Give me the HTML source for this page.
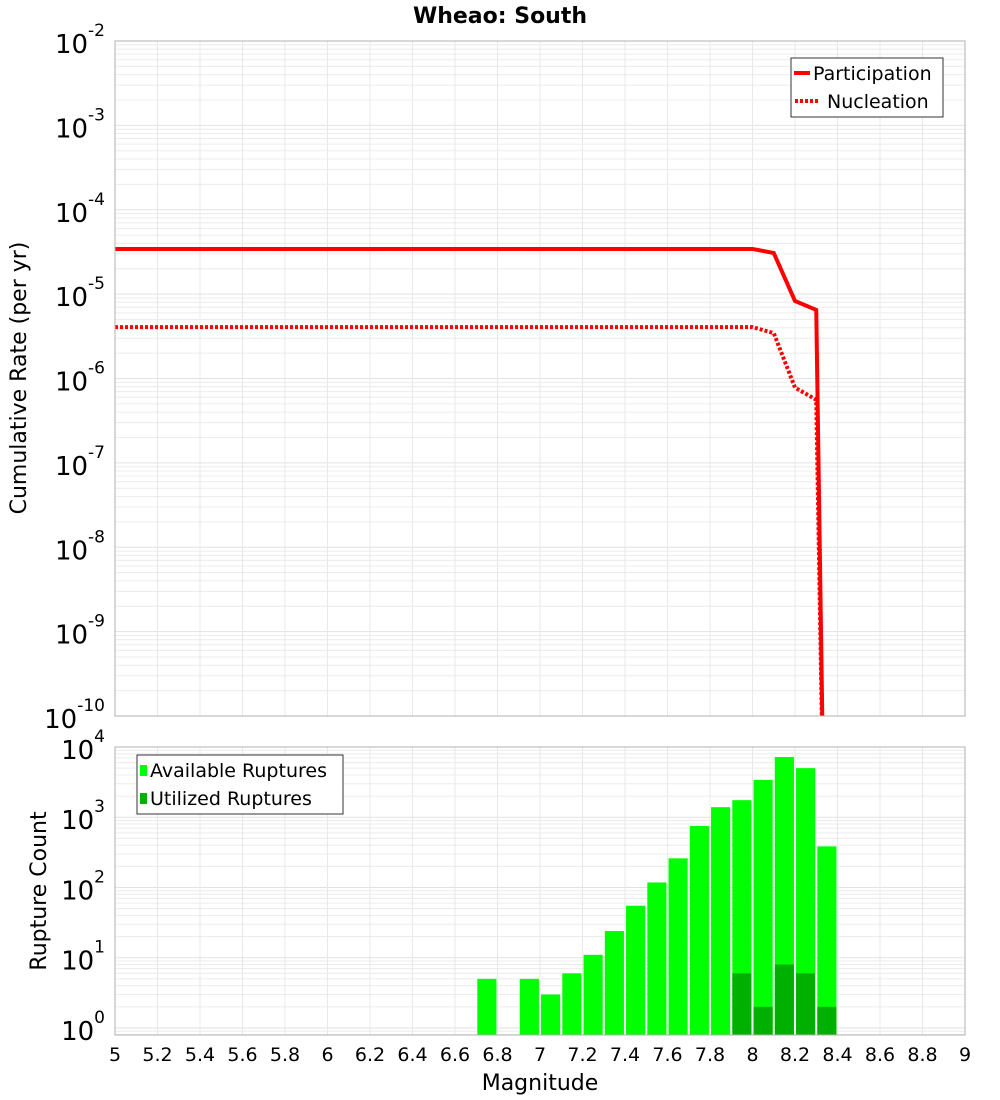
<!DOCTYPE html>
<html><head><meta charset="utf-8"><style>
html,body{margin:0;padding:0;background:#fff;}
svg{display:block;font-family:"DejaVu Sans","Liberation Sans",sans-serif;}
</style></head><body>
<svg id="chart" width="1000" height="1100" viewBox="0 0 1000 1100">
<text x="500" y="23" text-anchor="middle" font-size="22" font-weight="bold">Wheao: South</text>
<g id="top"></g><g id="bot"></g>
<text transform="translate(26,378) rotate(-90)" text-anchor="middle" font-size="22">Cumulative Rate (per yr)</text>
<text transform="translate(46,891) rotate(-90)" text-anchor="middle" font-size="22">Rupture Count</text>
<text x="540" y="1090" text-anchor="middle" font-size="22">Magnitude</text>
</svg>
<script>
const NS="http://www.w3.org/2000/svg";
const partMags=[5,8.0,8.1,8.2,8.3,8.34];
const partVals=[3.43e-5,3.43e-5,3.07e-5,8.3e-6,6.5e-6,1e-12];
const nuclMags=[5,8.0,8.1,8.2,8.3,8.34];
const nuclVals=[4.07e-6,4.07e-6,3.45e-6,7.8e-7,5.6e-7,1e-12];
const binMags=[6.75,6.95,7.05,7.15,7.25,7.35,7.45,7.55,7.65,7.75,7.85,7.95,8.05,8.15,8.25,8.35];
const availCounts=[5,5,3,6,11,24,55,118,260,750,1390,1750,3400,7200,5000,385];
const usedCounts=[0,0,0,0,0,0,0,0,0,0,0,6,2,8,6,2];
const xTicks=[5,5.2,5.4,5.6,5.8,6,6.2,6.4,6.6,6.8,7,7.2,7.4,7.6,7.8,8,8.2,8.4,8.6,8.8,9];
const topExps=[-2,-3,-4,-5,-6,-7,-8,-9,-10];
const botExps=[0,1,2,3,4];

const L=115,R=965;
const X=m=>L+(m-5)/4*(R-L);
const T={top:41,bot:716,max:-2,min:-10};
const B={top:747,bot:1035,max:4.0,min:-0.1};
const Ylog=(A,v)=>{const l=Math.log10(v);return A.top+(A.max-l)/(A.max-A.min)*(A.bot-A.top);};

function mk(tag,attrs,parent){const e=document.createElementNS(NS,tag);for(const k in attrs)e.setAttribute(k,attrs[k]);parent.appendChild(e);return e;}

function grid(g,A,e0,e1){
  for(let e=e0;e<=e1;e++){for(let k=1;k<10;k++){const y=Ylog(A,k*Math.pow(10,e));if(y<A.top-0.5||y>A.bot+0.5)continue;
    const ln=mk('line',{x1:L,x2:R,y1:y,y2:y,stroke:k==1?'#e2e2e2':'#ececec','stroke-width':1},g);
    
    }}
  for(const t of xTicks){const ln=mk('line',{x1:X(t),x2:X(t),y1:A.top,y2:A.bot,stroke:'#e8e8e8','stroke-width':1},g);
    
    }
}

// Top panel
const gt=document.getElementById('top');
grid(gt,T,-11,-2);
function line(mags,vals,dash,name){
  const cp=mk('g',{'clip-path':'url(#clipTop)'},gt);
  const pts=mags.map((m,i)=>X(m)+','+Ylog(T,vals[i])).join(' ');
  const p=mk('polyline',{points:pts,fill:'none',stroke:'#ff0000','stroke-width':4,'stroke-dasharray':dash},cp);
  
  
}
const defs=mk('defs',{},gt);
const cpath=mk('clipPath',{id:'clipTop'},defs);mk('rect',{x:L,y:T.top,width:R-L,height:T.bot-T.top},cpath);
line(partMags,partVals,'none','participation-line');
line(nuclMags,nuclVals,'3,2','nucleation-line');
const fr1=mk('rect',{x:L,y:T.top,width:R-L,height:T.bot-T.top,fill:'none',stroke:'#b0b0b0','stroke-width':1},gt);


topExps.forEach(e=>{const y=Ylog(T,Math.pow(10,e));
  const t=mk('text',{x:105,y:y+12,'text-anchor':'end','font-size':26},gt);
  
  
  t.textContent='10';
  const s=mk('tspan',{dy:-17,'font-size':17},t);s.textContent=String(e);
});
// legend top
const lg=mk('g',{},gt);


mk('rect',{x:791,y:58,width:152,height:59,fill:'#fff',stroke:'#333','stroke-width':1},lg);
mk('line',{x1:794,x2:810,y1:73,y2:73,stroke:'#f00','stroke-width':4},lg);
mk('line',{x1:795,x2:820,y1:101,y2:101,stroke:'#f00','stroke-width':4,'stroke-dasharray':'3,2'},lg);
let lt=mk('text',{x:813,y:80,'font-size':19},lg);lt.textContent='Participation';


lt=mk('text',{x:827,y:108,'font-size':19},lg);lt.textContent='Nucleation';



// Bottom panel
const gb=document.getElementById('bot');
grid(gb,B,-1,4);
const bw=(X(0.09)-X(0));
binMags.forEach((m,i)=>{
  const x=X(m)-bw/2;
  const y=Ylog(B,availCounts[i]);
  const r=mk('rect',{x:x,y:y,width:bw,height:B.bot-y,fill:'#00ff00'},gb);
  
  
  if(usedCounts[i]>0){const y2=Ylog(B,usedCounts[i]);
    const r2=mk('rect',{x:x,y:y2,width:bw,height:B.bot-y2,fill:'#00b000'},gb);
    
    }
});
const fr2=mk('rect',{x:L,y:B.top,width:R-L,height:B.bot-B.top,fill:'none',stroke:'#b0b0b0','stroke-width':1},gb);


botExps.forEach(e=>{const y=Ylog(B,Math.pow(10,e));
  const t=mk('text',{x:105,y:y+12,'text-anchor':'end','font-size':26},gb);
  
  
  t.textContent='10';
  const s=mk('tspan',{dy:-17,'font-size':17},t);s.textContent=String(e);
});
xTicks.forEach(v=>{
  const t=mk('text',{x:X(v),y:1061,'text-anchor':'middle','font-size':19},gb);
  
  
  t.textContent=String(v);
});
const lb=mk('g',{},gb);


mk('rect',{x:137,y:755,width:206,height:59,fill:'#fff',stroke:'#333','stroke-width':1},lb);
mk('rect',{x:140,y:765,width:7,height:11,fill:'#00ff00'},lb);
mk('rect',{x:140,y:793,width:7,height:11,fill:'#00b000'},lb);
lt=mk('text',{x:150,y:777,'font-size':19},lb);lt.textContent='Available Ruptures';


lt=mk('text',{x:150,y:805,'font-size':19},lb);lt.textContent='Utilized Ruptures';


</script>
</body></html>
